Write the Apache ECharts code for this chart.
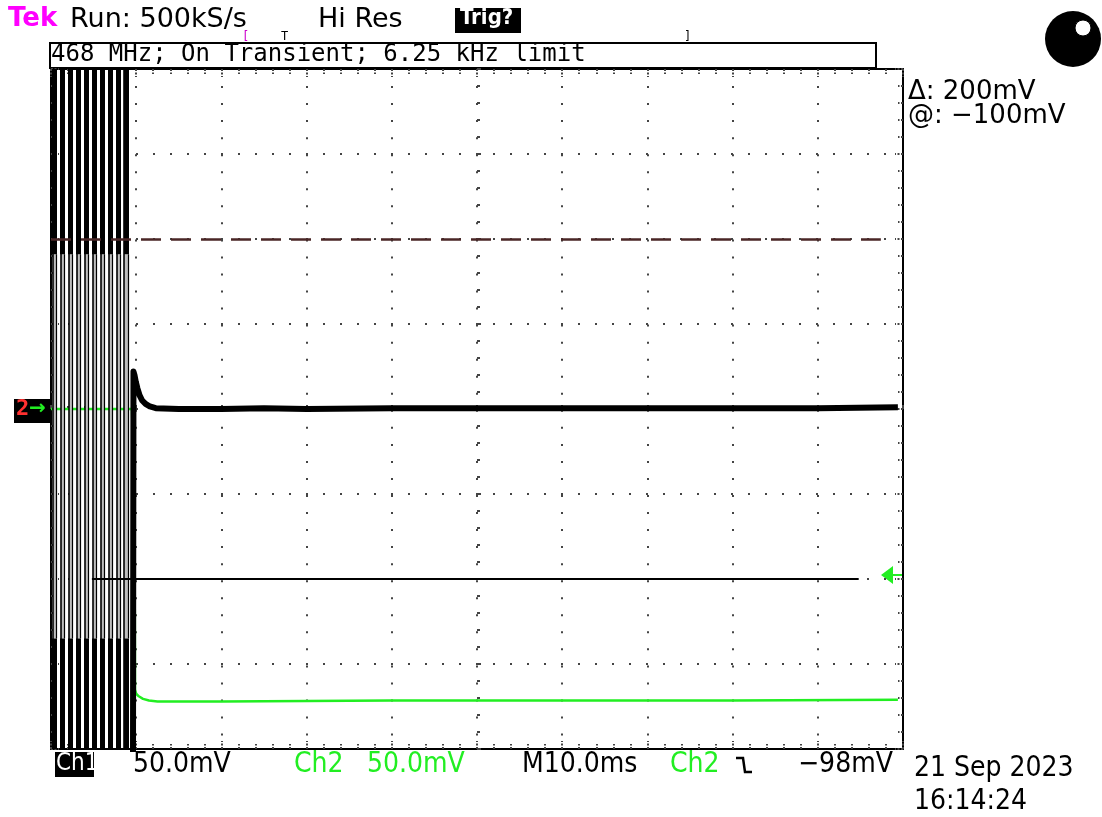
<!DOCTYPE html>
<html>
<head>
<meta charset="utf-8">
<script src="https://cdn.jsdelivr.net/npm/echarts@6/dist/echarts.min.js"></script>
<style>html,body{margin:0;padding:0;background:#fff}#c{width:1102px;height:817px}</style>
</head>
<body>
<div id="c"></div>
<script>
// ---- data (time in ms, 10 ms/div; amplitude in divisions, 50 mV/div) ----
const timeRange = [0, 100];
const timeDiv = 10;
const vertRange = [-4, 4];
const vertDiv = 1;
// pre-transient burst: clipped full-screen oscillation edges (ms)
const burstTimes = [0.41, 1.35, 2.29, 3.23, 4.17, 5.11, 6.04, 6.98, 7.92, 8.8];
// Ch1 (black) after transient
const ch1Times  = [9.62, 9.68, 9.8, 9.95, 10.15, 10.4, 10.7, 11.1, 11.6, 12.3, 15, 20, 25, 30, 40, 50, 60, 70, 80, 90, 99.4];
const ch1Values = [-4.5, 0.44, 0.40, 0.32, 0.24, 0.16, 0.10, 0.06, 0.03, 0.01, 0.0, 0.0, 0.01, 0.0, 0.01, 0.01, 0.01, 0.01, 0.01, 0.01, 0.02];
// Ch2 (green)
const ch2Times  = [0, 9.5, 9.8, 9.86, 10.0, 10.3, 10.8, 11.5, 12.5, 20, 40, 60, 80, 99.4];
const ch2Values = [0, 0, -1.0, -3.3, -3.35, -3.38, -3.41, -3.43, -3.44, -3.44, -3.43, -3.43, -3.43, -3.42];
// cursors: +100 mV (dash-dot) and -100 mV (solid), in divisions
const cursorA = { level: 2, from: 0, to: 97.4 };
const cursorB = { level: -2, from: 4.8, to: 94.8 };

const ch1Data = ch1Times.map((t, i) => [t, ch1Values[i]]);
const ch2Data = ch2Times.map((t, i) => [t, ch2Values[i]]);
const seg = (t, a, b) => ({ coords: [[t, a], [t, b]] });

const chart = echarts.init(document.getElementById('c'), null, { renderer: 'canvas' });
const mono = 'DejaVu Sans Mono';
const sans = 'DejaVu Sans';
const cond = 'DejaVu Sans Condensed';

function axisX(pos, extra) {
  return Object.assign({
    type: 'value', min: timeRange[0], max: timeRange[1], interval: timeDiv, position: pos,
    axisLabel: { show: false },
    axisLine: { show: true, onZero: false, lineStyle: { color: '#000', width: 2 } },
    axisTick: { show: true, inside: true, length: 8, lineStyle: { color: '#444', width: 2, type: [2, 1.5] } },
    minorTick: { show: true, splitNumber: 5, length: 5, lineStyle: { color: '#444', width: 2, type: [2, 1.5] } },
    splitLine: { show: false }
  }, extra || {});
}
function axisY(pos, extra) {
  return Object.assign({
    type: 'value', min: vertRange[0], max: vertRange[1], interval: vertDiv, position: pos,
    axisLabel: { show: false },
    axisLine: { show: true, onZero: false, lineStyle: { color: '#000', width: 2 } },
    axisTick: { show: true, inside: true, length: 8, lineStyle: { color: '#444', width: 2, type: [2, 1.5] } },
    minorTick: { show: true, splitNumber: 5, length: 5, lineStyle: { color: '#444', width: 2, type: [2, 1.5] } },
    splitLine: { show: false }
  }, extra || {});
}

const option = {
  animation: false,
  backgroundColor: '#fff',
  grid: { left: 51, right: 199, top: 69, bottom: 68, containLabel: false },
  xAxis: [
    axisX('bottom', { splitLine: { show: true, lineStyle: { color: '#444', width: 2, type: [2, 15.04] } } }),
    axisX('top'),
    axisX('bottom', { offset: -340, axisLine: { show: false }, axisTick: { show: true, inside: true, length: 4, lineStyle: { color: '#444', width: 2 } }, minorTick: { show: true, splitNumber: 5, length: 3, lineStyle: { color: '#444', width: 2 } } })
  ],
  yAxis: [
    axisY('left', { splitLine: { show: true, lineStyle: { color: '#444', width: 2, type: [2, 15] } } }),
    axisY('right'),
    axisY('left', { offset: -426, axisLine: { show: false }, axisTick: { show: true, inside: true, length: 4, lineStyle: { color: '#444', width: 2 } }, minorTick: { show: true, splitNumber: 5, length: 3, lineStyle: { color: '#444', width: 2 } } })
  ],
  series: [
    { type: 'line', name: 'Ch2', data: ch2Data, symbol: 'none', z: 2,
      lineStyle: { color: '#22ee22', width: 2.5 } },
    { type: 'lines', coordinateSystem: 'cartesian2d', z: 3, silent: true,
      data: burstTimes.map(t => seg(t, 1.82, -2.7)),
      lineStyle: { color: '#bdbdbd', width: 4, opacity: 1 } },
    { type: 'lines', coordinateSystem: 'cartesian2d', z: 4, silent: true,
      data: burstTimes.map(t => seg(t - 0.22, 4, -4)),
      lineStyle: { color: '#000', width: 1.6, opacity: 1 } },
    { type: 'lines', coordinateSystem: 'cartesian2d', z: 4, silent: true,
      data: burstTimes.map(t => seg(t + 0.22, 1.82, -2.7)),
      lineStyle: { color: '#000', width: 1.2, opacity: 1 } },
    { type: 'lines', coordinateSystem: 'cartesian2d', z: 5, silent: true,
      data: burstTimes.map(t => seg(t, 4, 1.82)).concat(burstTimes.map(t => seg(t, -2.7, -4))),
      lineStyle: { color: '#000', width: 5, opacity: 1 } },
    { type: 'line', name: 'Ch1', data: ch1Data, symbol: 'none', z: 6,
      lineStyle: { color: '#000', width: 6, join: 'round' } },
    { type: 'lines', coordinateSystem: 'cartesian2d', z: 6, silent: true,
      data: [{ coords: [[cursorA.from, cursorA.level], [cursorA.to, cursorA.level]] }],
      lineStyle: { color: '#4a2626', width: 2.5, type: [20, 10], opacity: 1 } },
    { type: 'lines', coordinateSystem: 'cartesian2d', z: 6, silent: true,
      data: [{ coords: [[cursorB.from, cursorB.level], [cursorB.to, cursorB.level]] }],
      lineStyle: { color: '#000', width: 2, opacity: 1 } }
  ],
  graphic: [
    // header
    { type: 'text', left: 8, top: 6, style: { text: 'Tek', fill: '#ff00ff', font: 'bold 26px ' + sans } },
    { type: 'text', left: 70, top: 6, style: { text: 'Run: 500kS/s', fill: '#000', font: '27px ' + sans } },
    { type: 'text', left: 318, top: 6, style: { text: 'Hi Res', fill: '#000', font: '27px ' + sans } },
    { type: 'rect', shape: { x: 455, y: 8, width: 66, height: 25 }, style: { fill: '#000' } },
    { type: 'text', left: 460, top: 7, style: { text: 'Trig?', fill: '#fff', font: 'bold 22px ' + cond } },
    { type: 'text', left: 242, top: 31, style: { text: '[', fill: '#cc00cc', font: '12px ' + mono } },
    { type: 'text', left: 281, top: 31, style: { text: 'T', fill: '#000', font: '12px ' + mono } },
    { type: 'text', left: 684, top: 31, style: { text: ']', fill: '#000', font: '12px ' + mono } },
    { type: 'rect', shape: { x: 50, y: 43, width: 826, height: 25 }, style: { fill: '#fff', stroke: '#000', lineWidth: 2 } },
    { type: 'text', left: 51, top: 43, style: { text: '468 MHz; On Transient; 6.25 kHz limit', fill: '#000', font: '24px ' + mono } },
    // bulb icon
    { type: 'circle', shape: { cx: 1073, cy: 39, r: 28 }, style: { fill: '#000' } },
    { type: 'circle', shape: { cx: 1083, cy: 28, r: 8 }, style: { fill: '#fff', stroke: '#000', lineWidth: 1 } },
    // cursor readouts
    { type: 'text', left: 908, top: 79, style: { text: '\u0394: 200mV', fill: '#000', font: '26px ' + sans } },
    { type: 'text', left: 908, top: 103, style: { text: '@: \u2212100mV', fill: '#000', font: '26px ' + sans } },
    // ch marker left
    { type: 'rect', shape: { x: 14, y: 399, width: 36, height: 24 }, style: { fill: '#000' } },
    { type: 'text', left: 16, top: 398, style: { text: '2', fill: '#ff3030', font: 'bold 22px ' + mono } },
    { type: 'text', left: 29, top: 399, style: { text: '\u2192', fill: '#22ee22', font: 'bold 20px ' + sans } },
    // trigger level arrow right
    { type: 'polygon', shape: { points: [[881, 575], [893, 566], [893, 584]] }, style: { fill: '#22ee22' } },
    { type: 'line', shape: { x1: 890, y1: 575, x2: 903, y2: 575 }, style: { stroke: '#22ee22', lineWidth: 2 } },
    // bottom readouts
    { type: 'rect', shape: { x: 55, y: 752, width: 39, height: 25 }, style: { fill: '#000' } },
    { type: 'text', left: 56, top: 752, style: { text: 'Ch1', fill: '#fff', font: '24px ' + cond } },
    { type: 'text', left: 133, top: 751, style: { text: '50.0mV', fill: '#000', font: '28px ' + cond } },
    { type: 'text', left: 294, top: 751, style: { text: 'Ch2', fill: '#22ee22', font: '28px ' + cond } },
    { type: 'text', left: 367, top: 751, style: { text: '50.0mV', fill: '#22ee22', font: '28px ' + cond } },
    { type: 'text', left: 522, top: 751, style: { text: 'M10.0ms', fill: '#000', font: '28px ' + cond } },
    { type: 'text', left: 670, top: 751, style: { text: 'Ch2', fill: '#22ee22', font: '28px ' + cond } },
    { type: 'polyline', shape: { points: [[736, 758], [743, 758], [745, 772], [752, 772]] }, style: { stroke: '#000', lineWidth: 2.5, fill: null } },
    { type: 'text', left: 798, top: 751, style: { text: '\u221298mV', fill: '#000', font: '28px ' + cond } },
    { type: 'text', left: 914, top: 755, style: { text: '21 Sep 2023', fill: '#000', font: '28px ' + cond } },
    { type: 'text', left: 914, top: 788, style: { text: '16:14:24', fill: '#000', font: '28px ' + cond } }
  ]
};
chart.setOption(option);
</script>
</body>
</html>
